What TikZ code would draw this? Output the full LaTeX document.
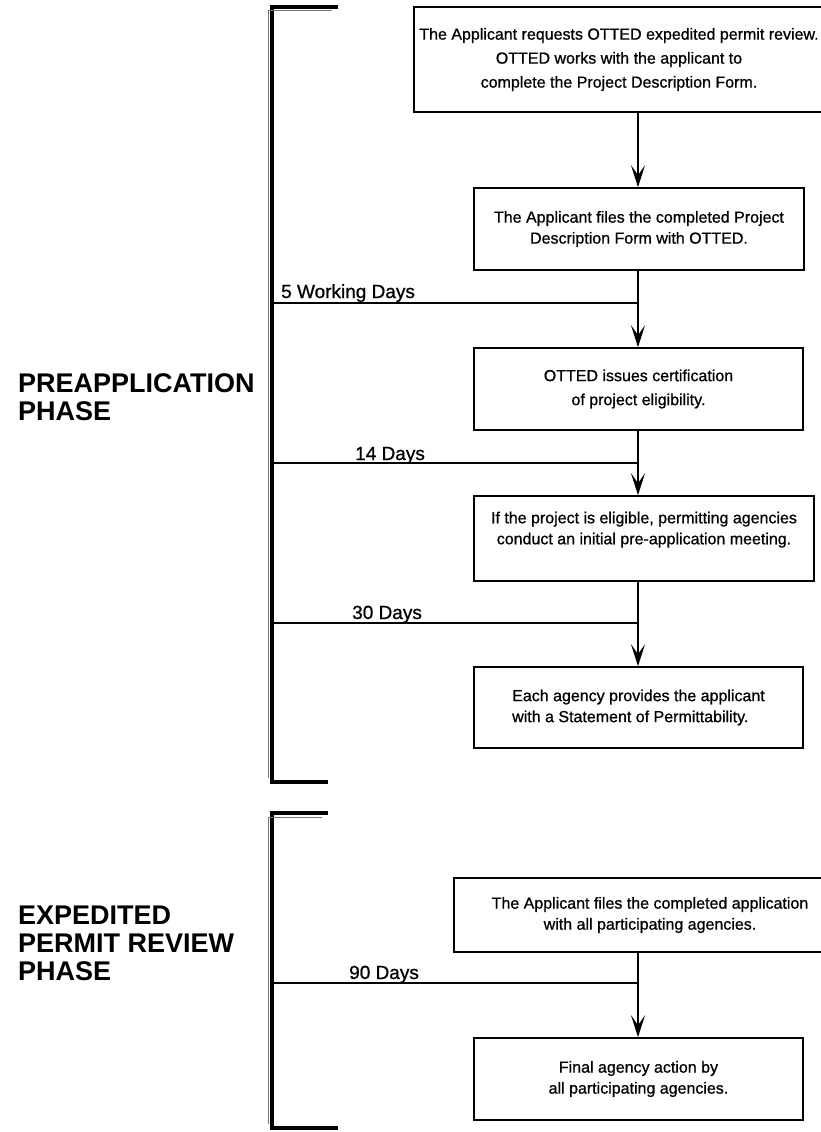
\documentclass[tikz,border=0pt]{standalone}
\usepackage{fontspec}
\setmainfont{Liberation Sans}
\newfontfamily\scanfont[FakeBold=0.8]{Liberation Sans}
\usetikzlibrary{arrows.meta}
\begin{document}
\begin{tikzpicture}[x=1pt,y=-1pt,
  box/.style={draw, line width=1.6pt, align=center, inner sep=0pt,
    font=\scanfont\fontsize{16}{21}\selectfont},
  conn/.style={line width=1.6pt},
  arr/.style={conn, -{Stealth[length=22pt,width=14pt,inset=10pt]}},
  daylbl/.style={font=\scanfont\fontsize{19}{22}\selectfont, anchor=base west, inner sep=0pt},
  phase/.style={font=\bfseries\fontsize{27}{28}\selectfont, align=left, anchor=west, inner sep=0pt},
  brk/.style={line width=3.4pt, line join=miter},
  brkthin/.style={line width=1pt, black!55}
]
\useasboundingbox (0,0) rectangle (821,1132);

% phase labels
\node[phase] (p1) at (18,397) {PREAPPLICATION\\PHASE};
\node[phase] (p2) at (18,943.5) {EXPEDITED\\PERMIT REVIEW\\PHASE};

% brackets
\coordinate (k1a) at (272,7);
\coordinate (k1b) at (272,782);
\coordinate (k2a) at (272,813);
\coordinate (k2b) at (272,1128);
\draw[brk] ([xshift=66pt]k1a) -- (k1a) -- (k1b) -- ([xshift=56pt]k1b);
\draw[brkthin] ([yshift=-4pt,xshift=-4pt]k1a) -- ([yshift=4pt,xshift=-4pt]k1b);
\draw[brkthin] ([yshift=-4pt,xshift=-4pt]k1a) -- ([yshift=-4pt,xshift=60pt]k1a);
\draw[brk] ([xshift=56pt]k2a) -- (k2a) -- (k2b) -- ([xshift=66pt]k2b);
\draw[brkthin] ([yshift=-4pt,xshift=-4pt]k2a) -- ([yshift=4pt,xshift=-4pt]k2b);
\draw[brkthin] ([yshift=-4pt,xshift=-4pt]k2a) -- ([yshift=-4pt,xshift=50pt]k2a);

% boxes
\node[box, minimum width=410pt, minimum height=105pt, font=\scanfont\fontsize{16}{24}\selectfont] (b1) at (619,59.5)
  {The Applicant requests OTTED expedited permit review.\\OTTED works with the applicant to\\complete the Project Description Form.};
\node[box, minimum width=330pt, minimum height=82pt] (b2) at (639,229)
  {The Applicant files the completed Project\\Description Form with OTTED.};
\node[box, minimum width=329pt, minimum height=82pt, font=\scanfont\fontsize{16}{24}\selectfont] (b3) at (638.5,389)
  {OTTED issues certification\\of project eligibility.};
\node[box, minimum width=340pt, minimum height=85pt] (b4) at (644,538.5)
  {If the project is eligible, permitting agencies\\conduct an initial pre-application meeting.\\\mbox{}};
\node[box, minimum width=329pt, minimum height=81pt, align=left] (b5) at (638.5,707.5)
  {Each agency provides the applicant\\with a Statement of Permittability.};
\node[box, minimum width=392pt, minimum height=74pt] (b6) at (650,915)
  {The Applicant files the completed application\\with all participating agencies.};
\node[box, minimum width=329pt, minimum height=82pt] (b7) at (638.5,1079)
  {Final agency action by\\all participating agencies.};

% main flow axis
\coordinate (ax) at (638,0);
\draw[arr] (b1.south -| ax) -- (b2.north -| ax);
\draw[arr] (b2.south -| ax) -- (b3.north -| ax);
\draw[arr] (b3.south -| ax) -- (b4.north -| ax);
\draw[arr] (b4.south -| ax) -- (b5.north -| ax);
\draw[arr] (b6.south -| ax) -- (b7.north -| ax);

% time lines
\coordinate (t1) at (273,303);
\coordinate (t2) at (273,463);
\coordinate (t3) at (273,623);
\coordinate (t4) at (273,983);
\draw[conn] (t1) -- (t1 -| ax);
\draw[conn] (t2) -- (t2 -| ax);
\draw[conn] (t3) -- (t3 -| ax);
\draw[conn] (t4) -- (t4 -| ax);

\node[daylbl] (d1) at (281,298) {5 Working Days};
\node[daylbl] (d2) at (355,460) {14 Days};
\node[daylbl] (d3) at (352,619) {30 Days};
\node[daylbl] (d4) at (349,979) {90 Days};
\end{tikzpicture}
\end{document}
